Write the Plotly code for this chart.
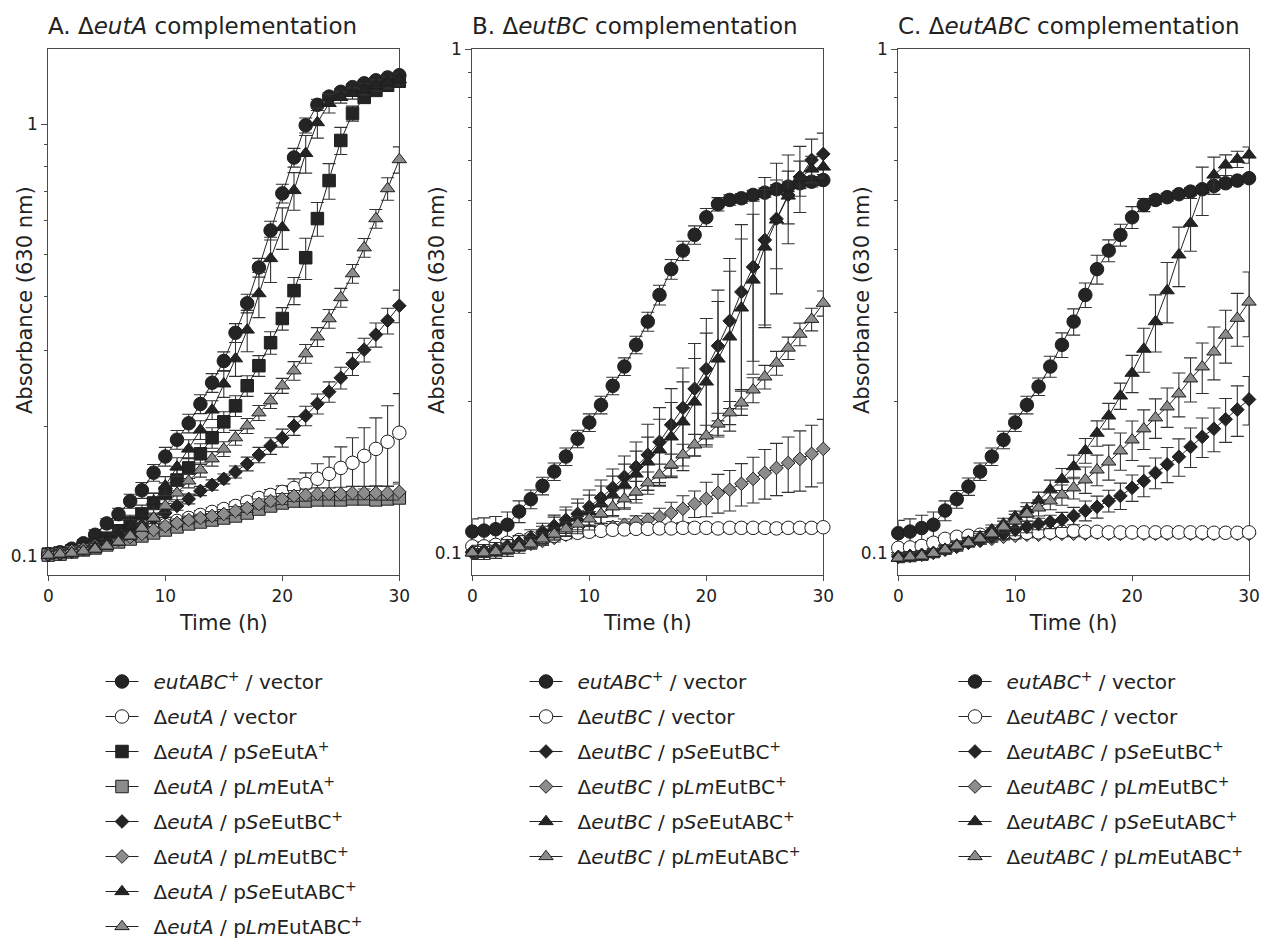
import plotly.graph_objects as go

# ---------------- data ----------------
hours = list(range(31))

# Panel A: delta-eutA complementation (absorbance at 630 nm, mean and SD)
A_wt = [0.101, 0.102, 0.104, 0.107, 0.112, 0.119, 0.125, 0.134, 0.142, 0.156, 0.170, 0.186, 0.203, 0.225, 0.252, 0.283,
        0.329, 0.385, 0.466, 0.568, 0.692, 0.838, 0.995, 1.11, 1.16, 1.19, 1.22, 1.245, 1.265, 1.285, 1.30]
A_wt_sd = [0.002, 0.002, 0.002, 0.002, 0.003, 0.003, 0.004, 0.005, 0.006, 0.007, 0.0085, 0.0093, 0.0101, 0.0113, 0.0126,
           0.0142, 0.0165, 0.0192, 0.0233, 0.0284, 0.0346, 0.0419, 0.0398, 0.0334, 0.0231, 0.019, 0.0183, 0.0187, 0.019,
           0.0193, 0.0195]
A_vec = [0.101, 0.1016, 0.1027, 0.1038, 0.1055, 0.1072, 0.1089, 0.1113, 0.1131, 0.1155, 0.118, 0.1206, 0.1225, 0.1245,
         0.1265, 0.1285, 0.1306, 0.1335, 0.1363, 0.1385, 0.1408, 0.1438, 0.1469, 0.151, 0.155, 0.160, 0.1644, 0.1706,
         0.1771, 0.1839, 0.193]
A_vec_sd = [0.002, 0.002, 0.002, 0.002, 0.002, 0.002, 0.002, 0.002, 0.002, 0.002, 0.0025, 0.0025, 0.0025, 0.003, 0.003,
            0.003, 0.003, 0.0035, 0.0035, 0.004, 0.0046, 0.0071, 0.0089, 0.0126, 0.0147, 0.019, 0.0235, 0.0276, 0.0319,
            0.039, 0.0448]
A_SeA = [0.101, 0.1016, 0.1027, 0.1044, 0.1066, 0.110, 0.1143, 0.1193, 0.1252, 0.1327, 0.140, 0.150, 0.160, 0.1725,
         0.188, 0.2046, 0.2228, 0.248, 0.276, 0.312, 0.355, 0.412, 0.491, 0.605, 0.741, 0.918, 1.06, 1.155, 1.199,
         1.232, 1.259]
A_SeA_sd = [0.002, 0.002, 0.002, 0.002, 0.003, 0.003, 0.004, 0.005, 0.006, 0.007, 0.0077, 0.0083, 0.0088, 0.0095,
            0.0103, 0.0113, 0.0123, 0.0136, 0.0152, 0.0187, 0.0213, 0.0297, 0.054, 0.0545, 0.0704, 0.0661, 0.0424,
            0.0231, 0.018, 0.0185, 0.0189]
A_LmA = [0.1005, 0.101, 0.1022, 0.1033, 0.1044, 0.1061, 0.1078, 0.1095, 0.1113, 0.1131, 0.1149, 0.1168, 0.1187, 0.1199,
         0.1212, 0.1225, 0.1238, 0.1258, 0.1285, 0.1306, 0.1327, 0.1341, 0.1341, 0.1349, 0.1349, 0.1349, 0.1356,
         0.1356, 0.1349, 0.1356, 0.1363]
A_LmA_sd = [0.002, 0.002, 0.002, 0.002, 0.002, 0.002, 0.002, 0.002, 0.002, 0.002, 0.002, 0.002, 0.0025, 0.0025, 0.0025,
            0.003, 0.003, 0.003, 0.003, 0.003, 0.003, 0.003, 0.003, 0.003, 0.003, 0.003, 0.0035, 0.0035, 0.0035,
            0.0035, 0.004]
A_SeBC = [0.1005, 0.1011, 0.1022, 0.1038, 0.1055, 0.1078, 0.1107, 0.1137, 0.1174, 0.1218, 0.1259, 0.1306, 0.1356,
          0.1415, 0.1461, 0.1509, 0.1566, 0.1635, 0.1715, 0.180, 0.1878, 0.2003, 0.2113, 0.2253, 0.2402, 0.2588,
          0.279, 0.3006, 0.3257, 0.351, 0.380]
A_SeBC_sd = [0.002, 0.002, 0.002, 0.002, 0.002, 0.002, 0.002, 0.0025, 0.0025, 0.003, 0.003, 0.003, 0.0035, 0.0035,
             0.004, 0.004, 0.005, 0.006, 0.007, 0.008, 0.009, 0.010, 0.011, 0.012, 0.013, 0.015, 0.017, 0.019, 0.021,
             0.024, 0.033]
A_LmBC = [0.101, 0.1016, 0.1027, 0.1038, 0.1055, 0.1072, 0.1089, 0.1107, 0.1125, 0.1149, 0.1174, 0.1193, 0.1212,
          0.1225, 0.1238, 0.1251, 0.1272, 0.1292, 0.132, 0.1341, 0.1356, 0.1378, 0.1385, 0.1393, 0.1393, 0.1393,
          0.140, 0.140, 0.140, 0.140, 0.1408]
A_LmBC_sd = [0.002, 0.002, 0.002, 0.002, 0.002, 0.002, 0.002, 0.002, 0.002, 0.002, 0.0025, 0.0025, 0.0025, 0.0025,
             0.003, 0.003, 0.003, 0.003, 0.0035, 0.0035, 0.004, 0.004, 0.0045, 0.0045, 0.0045, 0.005, 0.005, 0.005,
             0.0053, 0.0053, 0.006]
A_SeABC = [0.1005, 0.1011, 0.1016, 0.1027, 0.1049, 0.1078, 0.1119, 0.1174, 0.1245, 0.134, 0.1454, 0.1609, 0.177,
           0.196, 0.218, 0.2506, 0.2865, 0.334, 0.4055, 0.489, 0.577, 0.703, 0.857, 1.01, 1.119, 1.155, 1.18, 1.206,
           1.231, 1.25, 1.27]
A_SeABC_sd = [0.002, 0.002, 0.002, 0.002, 0.002, 0.002, 0.003, 0.004, 0.005, 0.006, 0.0073, 0.008, 0.0089, 0.0098,
              0.0109, 0.0175, 0.0258, 0.0367, 0.0487, 0.0587, 0.0635, 0.0703, 0.0857, 0.0808, 0.056, 0.0347, 0.0354,
              0.0362, 0.0369, 0.0375, 0.0381]
A_LmABC = [0.1005, 0.1011, 0.1016, 0.1027, 0.1038, 0.1055, 0.1078, 0.1113, 0.1161, 0.1225, 0.1306, 0.140, 0.1493,
           0.1583, 0.168, 0.177, 0.188, 0.2003, 0.2147, 0.2289, 0.248, 0.2687, 0.2943, 0.322, 0.3548, 0.397, 0.451,
           0.518, 0.605, 0.710, 0.829]
A_LmABC_sd = [0.002, 0.002, 0.002, 0.002, 0.002, 0.002, 0.002, 0.002, 0.002, 0.002, 0.0045, 0.005, 0.0055, 0.006,
              0.0065, 0.007, 0.0075, 0.008, 0.0086, 0.0092, 0.0099, 0.0134, 0.0147, 0.0161, 0.0177, 0.0199, 0.0226,
              0.0259, 0.0303, 0.0426, 0.058]

# Panel B: delta-eutBC complementation
B_wt = [0.1102, 0.1107, 0.1114, 0.1137, 0.1208, 0.1278, 0.1358, 0.145, 0.1553, 0.1684, 0.1814, 0.1966, 0.2145, 0.2343,
        0.2587, 0.2877, 0.325, 0.3656, 0.398, 0.4276, 0.4634, 0.492, 0.5017, 0.5055, 0.5133, 0.5187, 0.5268, 0.5331,
        0.5414, 0.5454, 0.5495]
B_wt_sd = [0.0066, 0.0066, 0.0067, 0.0068, 0.006, 0.0055, 0.0055, 0.0058, 0.0062, 0.0067, 0.0073, 0.0079, 0.0086,
           0.0094, 0.0103, 0.0125, 0.0146, 0.0165, 0.0175, 0.018, 0.019, 0.015, 0.012, 0.011, 0.011, 0.011, 0.011,
           0.012, 0.013, 0.013, 0.014]
B_vec = [0.103, 0.103, 0.1037, 0.1047, 0.106, 0.1071, 0.1076, 0.1081, 0.1091, 0.1096, 0.1101, 0.1106, 0.1111, 0.1113,
         0.1116, 0.1116, 0.1118, 0.1118, 0.1121, 0.1121, 0.1121, 0.1118, 0.1121, 0.1121, 0.1121, 0.1121, 0.1118,
         0.1121, 0.1121, 0.1121, 0.1124]
B_vec_sd = [0.002, 0.002, 0.002, 0.002, 0.002, 0.002, 0.002, 0.002, 0.002, 0.002, 0.002, 0.002, 0.002, 0.002, 0.002,
            0.002, 0.002, 0.002, 0.002, 0.002, 0.002, 0.002, 0.002, 0.002, 0.002, 0.002, 0.002, 0.002, 0.002, 0.002,
            0.002]
B_SeBC = [0.1005, 0.1009, 0.1018, 0.1032, 0.1047, 0.1071, 0.1101, 0.1131, 0.1163, 0.1195, 0.1234, 0.1286, 0.1346,
          0.1415, 0.1481, 0.1565, 0.166, 0.1795, 0.194, 0.2116, 0.2317, 0.2575, 0.2886, 0.3295, 0.3693, 0.4178, 0.46,
          0.5133, 0.5572, 0.6023, 0.619]
B_SeBC_sd = [0.003, 0.003, 0.003, 0.003, 0.0035, 0.004, 0.0044, 0.0057, 0.007, 0.0084, 0.0099, 0.0109, 0.0121,
             0.0142, 0.0178, 0.0235, 0.0282, 0.0323, 0.0388, 0.0487, 0.0602, 0.0747, 0.0952, 0.1186, 0.1293, 0.1379,
             0.1334, 0.1027, 0.0836, 0.0602, 0.0619]
B_LmBC = [0.100, 0.1005, 0.1009, 0.1018, 0.1032, 0.1042, 0.1056, 0.1071, 0.1086, 0.1096, 0.1106, 0.1116, 0.1126,
          0.1137, 0.1152, 0.1163, 0.1179, 0.120, 0.1223, 0.1251, 0.128, 0.1315, 0.1334, 0.1371, 0.1402, 0.1441,
          0.1474, 0.1508, 0.1536, 0.1572, 0.1608]
B_LmBC_sd = [0.002, 0.002, 0.002, 0.002, 0.002, 0.002, 0.002, 0.002, 0.002, 0.0022, 0.0024, 0.0026, 0.0028, 0.003,
             0.0032, 0.0035, 0.0047, 0.006, 0.0075, 0.0076, 0.0101, 0.0116, 0.0123, 0.0132, 0.0146, 0.0163, 0.0175,
             0.019, 0.021, 0.022, 0.0232]
B_SeABC = [0.100, 0.100, 0.1005, 0.1014, 0.1028, 0.1047, 0.1086, 0.1121, 0.1147, 0.1173, 0.1206, 0.1251, 0.1303,
           0.1364, 0.1434, 0.1515, 0.1601, 0.1699, 0.182, 0.1993, 0.2184, 0.2426, 0.2683, 0.3063, 0.348, 0.4047,
           0.4579, 0.5109, 0.5546, 0.578, 0.5833]
B_SeABC_sd = [0.003, 0.003, 0.003, 0.003, 0.003, 0.003, 0.0043, 0.0056, 0.0069, 0.0082, 0.0096, 0.0106, 0.0117,
              0.0136, 0.0158, 0.0182, 0.024, 0.0289, 0.0364, 0.0438, 0.0546, 0.0728, 0.0939, 0.1133, 0.1218, 0.1214,
              0.0916, 0.0613, 0.0444, 0.0347, 0.0292]
B_LmABC = [0.100, 0.100, 0.1005, 0.1014, 0.1028, 0.1042, 0.1066, 0.109, 0.1116, 0.1141, 0.1168, 0.1195, 0.1234,
           0.128, 0.1321, 0.1377, 0.1428, 0.1495, 0.1565, 0.1638, 0.1707, 0.1802, 0.1897, 0.1984, 0.2106, 0.2235,
           0.2381, 0.255, 0.2717, 0.2908, 0.313]
B_LmABC_sd = [0.002, 0.002, 0.002, 0.002, 0.002, 0.002, 0.003, 0.003, 0.0035, 0.004, 0.004, 0.005, 0.0055, 0.006,
              0.0065, 0.007, 0.0072, 0.0075, 0.0078, 0.008, 0.0085, 0.009, 0.010, 0.011, 0.012, 0.012, 0.013, 0.013,
              0.014, 0.015, 0.018]

# Panel C: delta-eutABC complementation
C_wt = [0.1094, 0.1102, 0.112, 0.1137, 0.1213, 0.1278, 0.1354, 0.145, 0.1553, 0.1676, 0.1814, 0.1966, 0.2138, 0.2343,
        0.2587, 0.2877, 0.325, 0.3656, 0.398, 0.4276, 0.4634, 0.4903, 0.5017, 0.508, 0.5149, 0.5211, 0.5268, 0.5348,
        0.5414, 0.548, 0.5541]
C_wt_sd = [0.0066, 0.0066, 0.0067, 0.0068, 0.0055, 0.0052, 0.0054, 0.0058, 0.0062, 0.0067, 0.0073, 0.0079, 0.0086,
           0.0112, 0.0145, 0.0173, 0.0182, 0.0241, 0.0199, 0.0214, 0.0232, 0.0147, 0.010, 0.009, 0.009, 0.009, 0.009,
           0.009, 0.009, 0.009, 0.009]
C_vec = [0.1023, 0.1025, 0.1032, 0.1047, 0.1066, 0.1076, 0.1081, 0.1086, 0.1091, 0.1093, 0.1096, 0.1096, 0.1098,
         0.1098, 0.1101, 0.1106, 0.1101, 0.1101, 0.1098, 0.1098, 0.1098, 0.1098, 0.1098, 0.1098, 0.1098, 0.1098,
         0.1098, 0.1096, 0.1096, 0.1096, 0.1098]
C_vec_sd = [0.0015, 0.0015, 0.0015, 0.0015, 0.0015, 0.0015, 0.0015, 0.0015, 0.0015, 0.0015, 0.0015, 0.0015, 0.0015,
            0.0015, 0.0015, 0.0015, 0.0015, 0.0015, 0.0015, 0.0015, 0.0015, 0.0015, 0.0015, 0.0015, 0.0015, 0.0015,
            0.0015, 0.0015, 0.0015, 0.0015, 0.0015]
C_SeBC = [0.0982, 0.0986, 0.0991, 0.100, 0.1014, 0.1028, 0.1047, 0.1061, 0.1076, 0.1091, 0.1111, 0.1126, 0.1141,
          0.1152, 0.1163, 0.1184, 0.1212, 0.1234, 0.1268, 0.1297, 0.1346, 0.1389, 0.1441, 0.1498, 0.1551, 0.1623,
          0.1699, 0.1763, 0.1841, 0.1924, 0.2016]
C_SeBC_sd = [0.002, 0.002, 0.002, 0.002, 0.002, 0.002, 0.002, 0.002, 0.0025, 0.0025, 0.003, 0.003, 0.003, 0.0035,
             0.004, 0.0047, 0.0055, 0.0062, 0.0063, 0.0078, 0.0081, 0.0097, 0.0101, 0.012, 0.0132, 0.0146, 0.0153,
             0.0176, 0.0184, 0.0221, 0.0222]
C_LmBC = [0.0991, 0.0991, 0.0995, 0.1005, 0.1018, 0.1032, 0.1047, 0.1056, 0.1066, 0.1076, 0.1081, 0.1086, 0.1086,
          0.1091, 0.1091, 0.1091, 0.1091, 0.1096, 0.1091, 0.1091, 0.1096, 0.1091, 0.1091, 0.1091, 0.1096, 0.1091,
          0.1091, 0.1091, 0.1096, 0.1091, 0.1091]
C_LmBC_sd = [0.0015, 0.0015, 0.0015, 0.0015, 0.0015, 0.0015, 0.0015, 0.0015, 0.0015, 0.0015, 0.0015, 0.0015,
             0.0015, 0.0015, 0.0015, 0.0015, 0.0015, 0.0015, 0.0015, 0.0015, 0.0015, 0.0015, 0.0015, 0.0015, 0.0015,
             0.0015, 0.0015, 0.0015, 0.0015, 0.0015, 0.0015]
C_SeABC = [0.0976, 0.098, 0.0986, 0.0999, 0.1017, 0.1037, 0.1053, 0.1077, 0.1111, 0.1141, 0.118, 0.1217, 0.127,
           0.1334, 0.140, 0.1483, 0.1596, 0.1728, 0.187, 0.2049, 0.2273, 0.2537, 0.2877, 0.3314, 0.3903, 0.451,
           0.5251, 0.5623, 0.5887, 0.6042, 0.6162]
C_SeABC_sd = [0.002, 0.002, 0.002, 0.002, 0.002, 0.002, 0.002, 0.0025, 0.0025, 0.003, 0.003, 0.004, 0.005, 0.006,
              0.007, 0.008, 0.009, 0.010, 0.011, 0.0123, 0.0193, 0.0254, 0.0374, 0.0454, 0.0527, 0.0541, 0.0578,
              0.0478, 0.0277, 0.0224, 0.0228]
C_LmABC = [0.0977, 0.0982, 0.0986, 0.0998, 0.1014, 0.1032, 0.1047, 0.1066, 0.1091, 0.1126, 0.1157, 0.1195, 0.1228,
           0.1268, 0.1303, 0.1346, 0.1396, 0.1461, 0.1515, 0.1594, 0.1676, 0.1763, 0.1854, 0.1949, 0.2068, 0.2215,
           0.234, 0.2505, 0.2705, 0.2922, 0.3147]
C_LmABC_sd = [0.002, 0.002, 0.002, 0.002, 0.002, 0.002, 0.002, 0.0025, 0.003, 0.003, 0.0035, 0.004, 0.0045, 0.005,
              0.006, 0.0067, 0.0084, 0.0102, 0.0121, 0.0135, 0.0151, 0.0159, 0.0167, 0.0175, 0.0207, 0.0222, 0.0269,
              0.0301, 0.0325, 0.0351, 0.0463]

# ---------------- styling ----------------
FONT = "DejaVu Sans"
INK = "#222222"
AXIS = "#4a4a4a"
BLACK = "#242424"
GRAY = "#8c8c8c"

W, H = 1262, 942          # layout positions below are given in figure pixels
LEGEND_PAD = "\u2002"     # en space between legend symbol and label

MARKERS = {
    "wt":    dict(symbol="circle", color=BLACK, size=13.5),
    "vec":   dict(symbol="circle", color="white", size=13.5),
    "SeA":   dict(symbol="square", color=BLACK, size=12.5),
    "LmA":   dict(symbol="square", color=GRAY, size=12.5),
    "SeBC":  dict(symbol="diamond", color=BLACK, size=10.5),
    "LmBC":  dict(symbol="diamond", color=GRAY, size=10.5),
    "SeABC": dict(symbol="triangle-up", color=BLACK, size=12.5),
    "LmABC": dict(symbol="triangle-up", color=GRAY, size=12.5),
}


def px_x(v):
    return v / W


def px_y(v):
    return 1 - v / H


panels = [
    dict(ax="", legend="legend", top=0.1747, xdom=(48.3, 399.3), series=[
        ("wt", "<i>eutABC</i><sup>+</sup> / vector", A_wt, A_wt_sd),
        ("vec", "Δ<i>eutA</i> / vector", A_vec, A_vec_sd),
        ("SeA", "Δ<i>eutA</i> / p<i>Se</i>EutA<sup>+</sup>", A_SeA, A_SeA_sd),
        ("LmA", "Δ<i>eutA</i> / p<i>Lm</i>EutA<sup>+</sup>", A_LmA, A_LmA_sd),
        ("SeBC", "Δ<i>eutA</i> / p<i>Se</i>EutBC<sup>+</sup>", A_SeBC, A_SeBC_sd),
        ("LmBC", "Δ<i>eutA</i> / p<i>Lm</i>EutBC<sup>+</sup>", A_LmBC, A_LmBC_sd),
        ("SeABC", "Δ<i>eutA</i> / p<i>Se</i>EutABC<sup>+</sup>", A_SeABC, A_SeABC_sd),
        ("LmABC", "Δ<i>eutA</i> / p<i>Lm</i>EutABC<sup>+</sup>", A_LmABC, A_LmABC_sd),
    ], draw_order=[0, 1, 2, 3, 4, 5, 6, 7], title="A. Δ<i>eutA</i> complementation", leg_x=100.5, ytitle_x=25),
    dict(ax="2", legend="legend2", top=0.0, xdom=(472.3, 823.3), series=[
        ("wt", "<i>eutABC</i><sup>+</sup> / vector", B_wt, B_wt_sd),
        ("vec", "Δ<i>eutBC</i> / vector", B_vec, B_vec_sd),
        ("SeBC", "Δ<i>eutBC</i> / p<i>Se</i>EutBC<sup>+</sup>", B_SeBC, B_SeBC_sd),
        ("LmBC", "Δ<i>eutBC</i> / p<i>Lm</i>EutBC<sup>+</sup>", B_LmBC, B_LmBC_sd),
        ("SeABC", "Δ<i>eutBC</i> / p<i>Se</i>EutABC<sup>+</sup>", B_SeABC, B_SeABC_sd),
        ("LmABC", "Δ<i>eutBC</i> / p<i>Lm</i>EutABC<sup>+</sup>", B_LmABC, B_LmABC_sd),
    ], draw_order=[0, 3, 1, 2, 4, 5], title="B. Δ<i>eutBC</i> complementation", leg_x=524.5, ytitle_x=437),
    dict(ax="3", legend="legend3", top=0.0, xdom=(898.3, 1249.0), series=[
        ("wt", "<i>eutABC</i><sup>+</sup> / vector", C_wt, C_wt_sd),
        ("vec", "Δ<i>eutABC</i> / vector", C_vec, C_vec_sd),
        ("SeBC", "Δ<i>eutABC</i> / p<i>Se</i>EutBC<sup>+</sup>", C_SeBC, C_SeBC_sd),
        ("LmBC", "Δ<i>eutABC</i> / p<i>Lm</i>EutBC<sup>+</sup>", C_LmBC, C_LmBC_sd),
        ("SeABC", "Δ<i>eutABC</i> / p<i>Se</i>EutABC<sup>+</sup>", C_SeABC, C_SeABC_sd),
        ("LmABC", "Δ<i>eutABC</i> / p<i>Lm</i>EutABC<sup>+</sup>", C_LmABC, C_LmABC_sd),
    ], draw_order=[0, 3, 1, 2, 4, 5], title="C. Δ<i>eutABC</i> complementation", leg_x=953.5, ytitle_x=862),
]

PLOT_TOP, PLOT_BOTTOM = 49, 575
LOG_BOTTOM = -1.044

fig = go.Figure()
annotations = []
layout = {}

for p in panels:
    ax = p["ax"]
    for idx in p["draw_order"]:
        key, label, vals, sd = p["series"][idx]
        m = MARKERS[key]
        fig.add_trace(go.Scatter(
            x=hours, y=vals, name=LEGEND_PAD + label, mode="lines+markers",
            xaxis="x" + ax, yaxis="y" + ax,
            legend=p["legend"], legendgroup=p["legend"] + key, legendrank=idx + 1,
            line=dict(color=BLACK, width=1),
            marker=dict(symbol=m["symbol"], color=m["color"], size=m["size"],
                        line=dict(color="#1e1e1e", width=1)),
            error_y=dict(type="data", array=sd, symmetric=True, visible=True,
                         color="#333333", thickness=1.1, width=6.5),
            cliponaxis=False,
        ))

    x0, x1 = p["xdom"]
    layout["xaxis" + ax] = dict(
        domain=[px_x(x0), px_x(x1)], range=[0, 30], anchor="y" + ax,
        tickvals=[0, 10, 20, 30], ticks="outside", ticklen=5, tickwidth=1.2, tickcolor=AXIS,
        showline=True, linecolor=AXIS, linewidth=1.3, mirror=True, showgrid=False, zeroline=False,
        tickfont=dict(family=FONT, size=17, color=INK), layer="below traces",
        title=dict(text="Time (h)", font=dict(family=FONT, size=21, color=INK), standoff=10),
    )
    layout["yaxis" + ax] = dict(
        domain=[px_y(PLOT_BOTTOM), px_y(PLOT_TOP)], type="log", range=[LOG_BOTTOM, p["top"]],
        anchor="x" + ax, tickvals=[0.1, 1], ticktext=["0.1", "1"], ticks="outside", ticklen=6,
        tickwidth=1.2, tickcolor=AXIS, showline=True, linecolor=AXIS, linewidth=1.3, mirror=True,
        showgrid=False, zeroline=False, tickfont=dict(family=FONT, size=17, color=INK), layer="below traces",
        minor=dict(tickmode="array", tickvals=[0.2, 0.3, 0.4, 0.5, 0.6, 0.7, 0.8, 0.9], ticks="outside",
                   ticklen=3.5, tickwidth=1, tickcolor=AXIS, showgrid=False),
    )
    layout[p["legend"]] = dict(
        x=px_x(p["leg_x"]), y=px_y(662), xanchor="left", yanchor="top",
        font=dict(family=FONT, size=20, color=INK), bgcolor="rgba(0,0,0,0)",
        tracegroupgap=6, itemwidth=33, traceorder="grouped",
    )
    annotations.append(dict(
        text=p["title"], x=px_x(x0 - 2), y=px_y(26), xref="paper", yref="paper",
        xanchor="left", yanchor="middle", showarrow=False, font=dict(family=FONT, size=23, color=INK),
    ))
    annotations.append(dict(
        text="Absorbance (630 nm)", x=px_x(p["ytitle_x"]), y=px_y(300), xref="paper", yref="paper",
        xanchor="center", yanchor="middle", textangle=-90, showarrow=False,
        font=dict(family=FONT, size=21, color=INK),
    ))

fig.update_layout(
    width=W, height=H, margin=dict(l=0, r=0, t=0, b=0, autoexpand=False),
    paper_bgcolor="white", plot_bgcolor="white", showlegend=True,
    annotations=annotations, **layout,
)

fig.write_html("out.html")
